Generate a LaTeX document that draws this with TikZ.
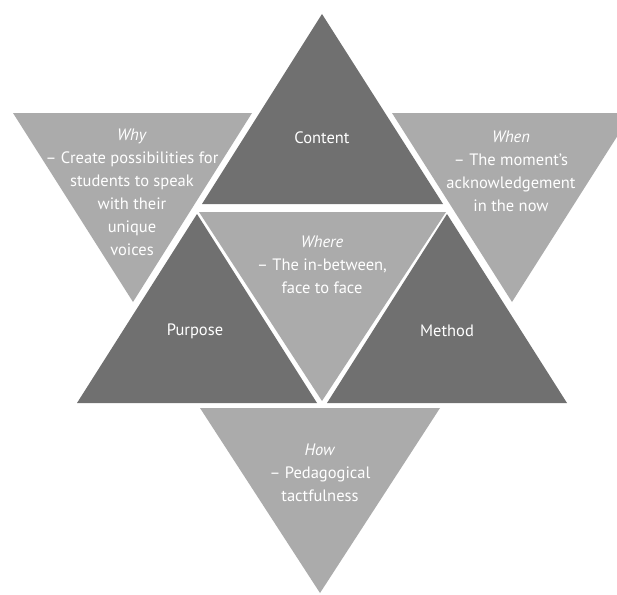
\documentclass[tikz,border=0pt]{standalone}
\usepackage{fontspec}
\setmainfont{PT Sans}
\definecolor{darktri}{RGB}{112,112,112}
\definecolor{lighttri}{RGB}{171,171,171}
\tikzset{
  dk/.style={fill=darktri},
  lt/.style={fill=lighttri},
  lbl/.style={text=white, align=center, inner sep=0pt, font=\fontsize{16.5}{23}\selectfont}
}
\begin{document}
\begin{tikzpicture}[x=1pt,y=-1pt]
\useasboundingbox (0,0) rectangle (617,594);
\fill[white] (0,0) rectangle (617,594);
\clip (0,0) rectangle (617,594);
% outer light triangles
\fill[lt] (13,113) -- (252,113) -- (133,302) -- cycle;   % Why
\fill[lt] (392,113) -- (632,113) -- (512,302) -- cycle;  % When
\fill[lt] (200,408) -- (440,408) -- (320,593) -- cycle;  % How
% central light triangle
\fill[lt] (199,212) -- (446,212) -- (322,401) -- cycle;  % Where
% dark triangles
\fill[dk] (322,14) -- (443,204) -- (202,204) -- cycle;   % Content
\fill[dk] (197,214) -- (317,403) -- (77,403) -- cycle;   % Purpose
\fill[dk] (447,214) -- (567,403) -- (327,403) -- cycle;  % Method
% labels
\node[lbl] (content) at (322,138) {Content};
\node[lbl] (purpose) at (195,331) {Purpose};
\node[lbl] (method) at (447,331) {Method};
\node[lbl, anchor=north] (why) at (132,128.5) {\textit{Why}\\– Create possibilities for\\students to speak\\with their\\unique\\voices};
\node[lbl, anchor=north] (when) at (511,131) {\textit{When}\\– The moment’s\\acknowledgement\\in the now};
\node[lbl, anchor=north] (where) at (322,236) {\textit{Where}\\– The in-between,\\face to face};
\node[lbl, anchor=north] (how) at (320,444) {\textit{How}\\– Pedagogical\\tactfulness};
\end{tikzpicture}
\end{document}
